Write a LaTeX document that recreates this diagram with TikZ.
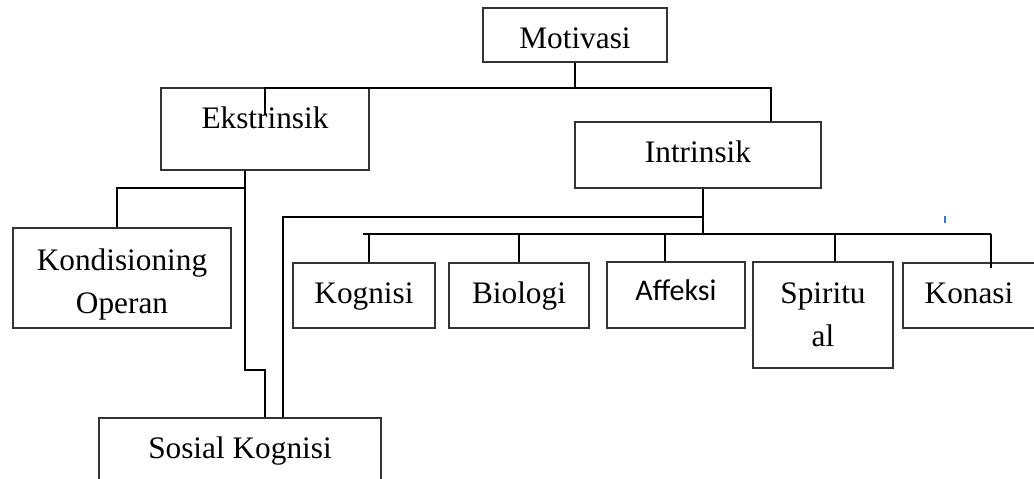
\documentclass[tikz,border=0pt]{standalone}
\usepackage{fontspec}
\setmainfont{Liberation Serif}
\newfontfamily\calibfont{Carlito}
\definecolor{tickblue}{HTML}{4472C4}
\tikzstyle{box}=[draw=black!80, line width=1.2pt, inner sep=0pt, font=\fontsize{31.3}{43}\selectfont]
\tikzstyle{onerow}=[box, anchor=base, text height=40pt, text depth=25pt]
\tikzstyle{tworow}=[box, anchor=base, align=center]
\tikzstyle{link}=[draw, line width=2pt]

\begin{document}
\begin{tikzpicture}[x=1pt, y=-1pt]
    \clip (0,0) rectangle (1034,479);
    % First we draw the boxes
    \node[onerow, minimum width=184pt, text depth=14pt] (mot) at (575,48) {Motivasi};
    \node[onerow, minimum width=208pt, text depth=42pt] (eks) at (265,128) {Ekstrinsik};
    \node[onerow, minimum width=246pt, text depth=26pt] (int) at (698,162) {Intrinsik};
    \node[tworow, minimum width=218pt, text height=85pt, text depth=15pt] (kon) at (122,313) {Kondisioning\\Operan};
    \node[onerow, minimum width=282pt, text depth=50pt] (sos) at (240,458) {Sosial Kognisi};

    \foreach \pos/\name/\w/\txt in {{(364,303)/kog/142/Kognisi}, {(519,303)/bio/140/Biologi}, {(969,303)/kns/132/Konasi}}
        \node[onerow, minimum width=\w pt] (\name) at \pos {\txt};
    \node[onerow, minimum width=138pt, text height=38pt, text depth=28pt, font=\fontsize{30}{36}\calibfont] (aff) at (676,300) {Affeksi};
    \node[tworow, minimum width=140pt, text height=84pt, text depth=22pt] (spi) at (823,346) {Spiritu\\al};

    % Connect the boxes
    \path[link] (mot.south) -- (575,88);
    \path[link] (265,115) -- (265,88) -- (771,88) -- (771,0 |- int.north);
    \path[link] (245,0 |- eks.south) -- (245,370) -- (265,370) -- (265,0 |- sos.north);
    \path[link] (245,188) -- (117,188) -- (117,0 |- kon.north);
    \path[link] (283,0 |- sos.north) -- (283,217) -- (703,217);
    \path[link] (703,0 |- int.south) -- (703,234);
    \path[link] (363,234) -- (991,234);
    \foreach \x/\name in {369/kog, 519/bio, 665/aff, 835/spi}
        \path[link] (\x,234) -- (\x,0 |- \name.north);
    \path[link] (991,234) -- (991,268);

    \draw[tickblue, line width=2pt] (945,216) -- (945,223);
\end{tikzpicture}
\end{document}
